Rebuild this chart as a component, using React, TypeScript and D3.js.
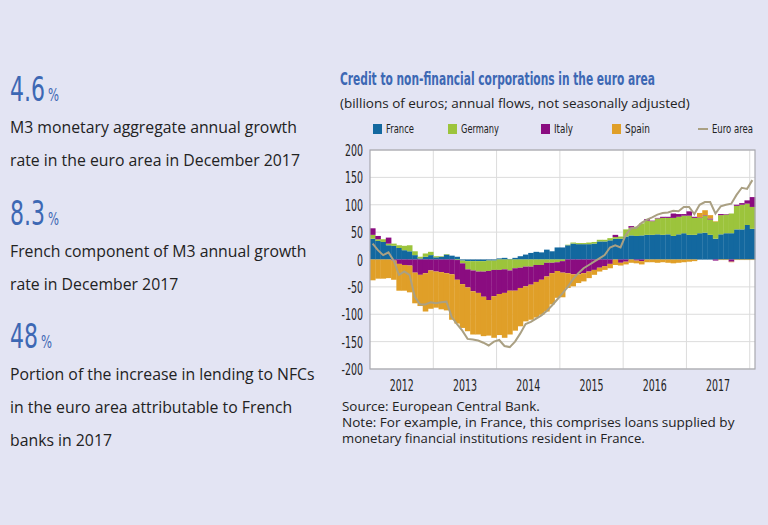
import * as d3 from 'd3';
import { useLayoutEffect, useRef, useState } from 'react';

const W = 768;
const H = 525;

// monthly annual flows, Jan 2012 .. Jan 2018 (billions of euros)
const france = [
  38, 34, 32, 26, 25, 21, 17, 15, 8, 2, 5, 8,
  4, 5, 9, 7, 5, -2, -3, -3, -3, -3, -2, -2,
  2, 3, 1, 3, 6, 9, 12, 14, 13, 18, 15, 22,
  22, 26, 29, 28, 28, 28, 29, 33, 33, 35, 38, 38,
  42, 44, 43, 44, 45, 45, 46, 45, 46, 43, 46, 48,
  45, 45, 48, 49, 45, 38, 46, 48, 48, 55, 55, 63,
  56,
];
const germany = [
  7, 3, 5, 3, 4, 5, 8, 11, 7, 3, 6, 6,
  2, 1, 1, 0, -1, -5, -15, -17, -19, -19, -19, -17,
  -19, -18, -20, -16, -15, -13, -13, -10, -10, -6, -6, -5,
  -3, 1, 2, 2, 2, 3, 3, 3, 3, 4, 3, 4,
  13, 14, 17, 22, 26, 25, 29, 31, 30, 33, 32, 32,
  35, 31, 28, 31, 28, 31, 35, 34, 36, 43, 45, 39,
  40,
];
const italy = [
  12, 6, 0, 11, -2, -8, -10, -11, -24, -28, -25, -20,
  -22, -23, -25, -27, -36, -38, -33, -38, -39, -46, -53, -48,
  -44, -43, -37, -41, -37, -36, -33, -31, -27, -25, -19, -16,
  -21, -25, -27, -27, -25, -22, -19, -15, -12, -8, 4, -6,
  -4, 3, -2, -3, 3, 1, 1, 2, 2, 8, 5, 3,
  8, 2, 1, 1, 2, -2, 2, 1, -4, 2, 3, 6,
  18,
];
const spain = [
  -38, -35, -35, -34, -35, -49, -47, -49, -56, -57, -70, -70,
  -66, -68, -68, -83, -80, -80, -80, -79, -76, -72, -65, -76,
  -75, -82, -80, -73, -70, -64, -64, -65, -64, -64, -57, -49,
  -45, -27, -22, -16, -15, -12, -9, -7, -7, -8, -10, -5,
  -5, -6, -5, -6, -5, -5, -6, -5, -6, -7, -6, -5,
  -4, -3, 8, 9, 6, 1, -1, -1, -1, -1, -1, -1,
  -1,
];
const euroArea = [
  29, 17, 8, 13, -2, -28, -22, -28, -68, -82, -82, -78,
  -80, -78, -77, -105, -118, -130, -145, -146, -148, -152, -157, -150,
  -147, -158, -160, -150, -135, -118, -114, -108, -102, -94, -84, -73,
  -62, -50, -36, -25, -16, -10, -4, 2, 8, 22, 26, 22,
  45, 57, 58, 67, 73, 77, 82, 85, 86, 89, 88, 96,
  96, 83, 100, 105, 105, 84, 97, 100, 102, 118, 131, 129,
  145,
];

const years = [2012, 2013, 2014, 2015, 2016, 2017];
const yTicks = [200, 150, 100, 50, 0, -50, -100, -150, -200];

const keys = ['France', 'Germany', 'Italy', 'Spain'];
const colors: Record<string, string> = {
  France: '#13689f',
  Germany: '#9cc43c',
  Italy: '#8a0c80',
  Spain: '#e09f28',
};
const LINE_COLOR = '#aaa083';

const BG = '#e3e4f3';
const BLUE = '#3d68b4';
const TEXT = '#222';
const COND = "'DejaVu Sans', sans-serif";
const BODY = "'Open Sans', 'DejaVu Sans', sans-serif";
const NOTE = "'Open Sans', sans-serif";

const left = 370;
const right = 755;
const top = 150;
const bottom = 369;

// text squeezed horizontally to a given width (stands in for a condensed face)
function FitText({ x, y, width, anchor = 'start', children, ...rest }: any) {
  const ref = useRef<SVGTextElement>(null);
  const [sx, setSx] = useState(1);
  useLayoutEffect(() => {
    if (!ref.current) return;
    const w = ref.current.getComputedTextLength();
    if (w > 0) setSx(width / w);
  }, [width, children]);
  return (
    <text
      ref={ref}
      transform={`translate(${x},${y}) scale(${sx},1)`}
      textAnchor={anchor}
      {...rest}
    >
      {children}
    </text>
  );
}

function App() {
  const rows = france.map((_, i) => ({
    France: france[i],
    Germany: germany[i],
    Italy: italy[i],
    Spain: spain[i],
  }));
  const n = rows.length;
  const series = d3
    .stack<any>()
    .keys(keys)
    .offset(d3.stackOffsetDiverging)(rows);

  const x = d3.scaleLinear().domain([0, n]).range([left, right]);
  const y = d3.scaleLinear().domain([-200, 200]).range([bottom, top]);

  const path = d3
    .line<number>()
    .x((_, i) => x(i + 0.5))
    .y(d => y(d))(euroArea);

  const stats = [
    { big: '4.6', w: 35, y: 101, lines: ['M3 monetary aggregate annual growth', 'rate in the euro area in December 2017'] },
    { big: '8.3', w: 35, y: 225, lines: ['French component of M3 annual growth', 'rate in December 2017'] },
    { big: '48', w: 28, y: 348, lines: ['Portion of the increase in lending to NFCs', 'in the euro area attributable to French', 'banks in 2017'] },
  ];

  const legend = [
    { key: 'France', x: 373, w: 28 },
    { key: 'Germany', x: 448, w: 38 },
    { key: 'Italy', x: 541, w: 19 },
    { key: 'Spain', x: 612, w: 25 },
  ];

  const notes = [
    { t: 'Source: European Central Bank.', w: 198 },
    { t: 'Note: For example, in France, this comprises loans supplied by', w: 393 },
    { t: 'monetary financial institutions resident in France.', w: 303 },
  ];

  return (
    <svg
      width={W}
      height={H}
      style={{ position: 'absolute', left: 0, top: 0, display: 'block' }}
    >
      <rect width={W} height={H} fill={BG} />

      {/* left-hand key figures */}
      {stats.map(s => (
        <g key={s.big}>
          <FitText x={10} y={s.y} width={s.w} fill={BLUE} fontFamily={COND} fontSize={34}>
            {s.big}
          </FitText>
          <FitText x={13 + s.w} y={s.y} width={11} fill={BLUE} fontFamily={COND} fontSize={17}>
            %
          </FitText>
          {s.lines.map((l, j) => (
            <text
              key={j}
              x={10}
              y={s.y + 32 + j * 33}
              fill={TEXT}
              fontFamily={BODY}
              fontSize={15.8}
            >
              {l}
            </text>
          ))}
        </g>
      ))}

      {/* title */}
      <FitText
        x={340}
        y={85}
        width={315}
        fill={BLUE}
        fontFamily={COND}
        fontSize={17.5}
        fontWeight="bold"
      >
        Credit to non-financial corporations in the euro area
      </FitText>
      <FitText x={340} y={108} width={350} fill={TEXT} fontFamily={BODY} fontSize={13.5}>
        (billions of euros; annual flows, not seasonally adjusted)
      </FitText>

      {/* legend */}
      {legend.map(l => (
        <g key={l.key}>
          <rect x={l.x} y={124} width={9} height={10} fill={colors[l.key]} />
          <FitText x={l.x + 13} y={133} width={l.w} fill={TEXT} fontFamily={COND} fontSize={13}>
            {l.key}
          </FitText>
        </g>
      ))}
      <line x1={698} x2={708} y1={129} y2={129} stroke={LINE_COLOR} strokeWidth={2} />
      <FitText x={712} y={133} width={41} fill={TEXT} fontFamily={COND} fontSize={13}>
        Euro area
      </FitText>

      {/* plot */}
      <rect x={left} y={top} width={right - left} height={bottom - top} fill="#fff" />
      {yTicks.map(t => (
        <line key={t} x1={left} x2={right} y1={y(t)} y2={y(t)} stroke="#dcdcdc" />
      ))}
      {years.map((yr, k) => (
        <line
          key={yr}
          x1={x((k + 1) * 12)}
          x2={x((k + 1) * 12)}
          y1={top}
          y2={bottom}
          stroke="#dcdcdc"
        />
      ))}

      {series.map(s => (
        <g key={s.key} fill={colors[s.key]}>
          {s.map((d, i) => {
            const y0 = y(d[0]);
            const y1 = y(d[1]);
            return (
              <rect
                key={i}
                x={x(i)}
                width={x(i + 1) - x(i) + 0.3}
                y={Math.min(y0, y1)}
                height={Math.abs(y0 - y1)}
              />
            );
          })}
        </g>
      ))}

      <path d={path ?? ''} fill="none" stroke={LINE_COLOR} strokeWidth={2} />

      <rect
        x={left}
        y={top}
        width={right - left}
        height={bottom - top}
        fill="none"
        stroke="#a8a8b0"
        strokeWidth={1.2}
      />

      {yTicks.map(t => {
        const s = String(t);
        const w = 6 * s.replace('-', '').length + (t < 0 ? 3.5 : 0);
        return (
          <FitText
            key={t}
            x={363}
            y={y(t) + 6}
            width={w}
            anchor="end"
            fill={TEXT}
            fontFamily={COND}
            fontSize={16}
          >
            {s}
          </FitText>
        );
      })}
      {years.map((yr, k) => (
        <FitText
          key={yr}
          x={x(k * 12 + 6)}
          y={391}
          width={24}
          anchor="middle"
          fill={TEXT}
          fontFamily={COND}
          fontSize={16}
        >
          {yr}
        </FitText>
      ))}

      {/* notes */}
      {notes.map((nt, j) => (
        <FitText
          key={j}
          x={342}
          y={411 + j * 16}
          width={nt.w}
          fill={TEXT}
          fontFamily={NOTE}
          fontSize={12.5}
        >
          {nt.t}
        </FitText>
      ))}
    </svg>
  );
}

export default App;
